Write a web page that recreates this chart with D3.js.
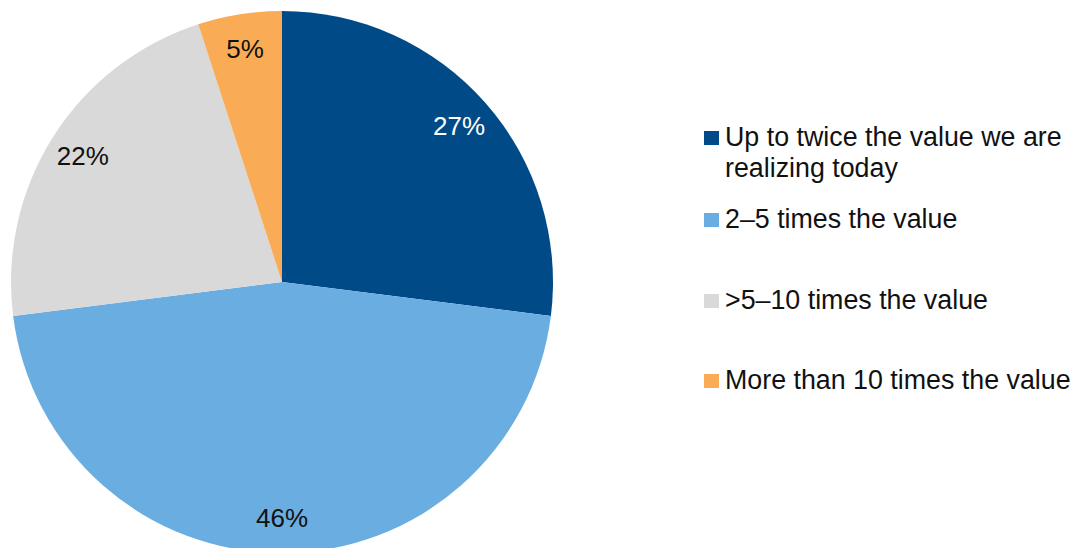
<!DOCTYPE html>
<html>
<head>
<meta charset="utf-8">
<script src="https://cdn.jsdelivr.net/npm/d3@7"></script>
<style>
  html, body { margin: 0; padding: 0; background: #fff; }
  svg { display: block; font-family: "Liberation Sans", Arial, sans-serif; }
</style>
</head>
<body>
<svg id="chart" width="1081" height="548"></svg>
<script>
// Survey answers: share of respondents per expected value multiple
const categories = [
  ["Up to twice the value we are", "realizing today"],
  ["2–5 times the value"],
  [">5–10 times the value"],
  ["More than 10 times the value"]
];
const shares = [27, 46, 22, 5];
const sliceColors = ["#004b87", "#6aade0", "#d9d9d9", "#f9ab55"];
const labelColors = ["#ffffff", "#111111", "#111111", "#111111"];

const svg = d3.select("#chart");
const cx = 282, cy = 282, radius = 271;

const pie = d3.pie().sort(null).value(d => d)(shares);
const arc = d3.arc().innerRadius(0).outerRadius(radius);
const labelArc = d3.arc().innerRadius(236).outerRadius(236);

const g = svg.append("g").attr("transform", `translate(${cx},${cy})`);

g.selectAll("path.slice")
  .data(pie)
  .join("path")
  .attr("class", "slice")
  .attr("d", arc)
  .attr("fill", (d, i) => sliceColors[i]);

g.selectAll("text.pct")
  .data(pie)
  .join("text")
  .attr("class", "pct")
  .attr("transform", d => `translate(${labelArc.centroid(d)})`)
  .attr("text-anchor", "middle")
  .attr("dy", "0.36em")
  .attr("font-size", 26)
  .attr("fill", (d, i) => labelColors[i])
  .text(d => d.data + "%");

// Legend
const legendX = 704;
const baselines = [146, 228, 309, 389];
const lineGap = 31;

const items = svg.append("g")
  .selectAll("g.item")
  .data(categories)
  .join("g")
  .attr("class", "item");

items.append("rect")
  .attr("x", legendX)
  .attr("y", (d, i) => baselines[i] - 15)
  .attr("width", 15)
  .attr("height", 14)
  .attr("fill", (d, i) => sliceColors[i]);

items.append("text")
  .attr("x", legendX + 21)
  .attr("y", (d, i) => baselines[i])
  .attr("font-size", 26.8)
  .attr("fill", "#111")
  .selectAll("tspan")
  .data(d => d)
  .join("tspan")
  .attr("x", legendX + 21)
  .attr("dy", (d, j) => j === 0 ? 0 : lineGap)
  .text(d => d);
</script>
</body>
</html>
